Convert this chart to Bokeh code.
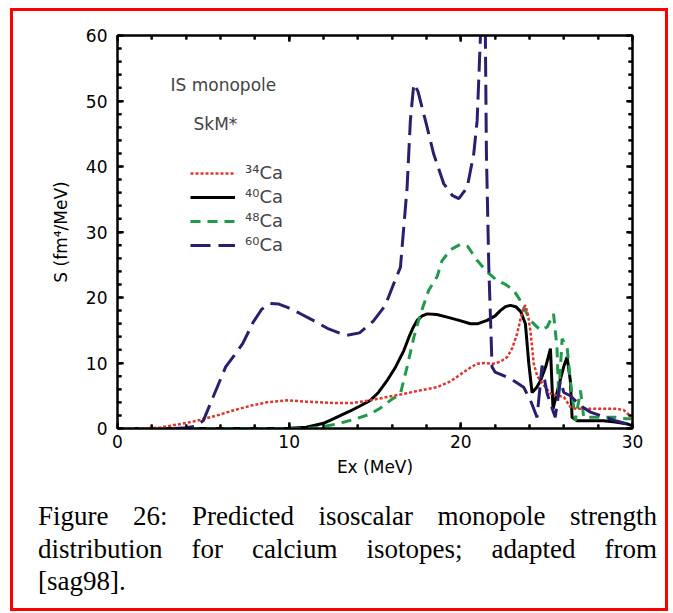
import math
from bokeh.plotting import figure
from bokeh.layouts import column
from bokeh.models import (Range1d, SingleIntervalTicker, LinearAxis, Legend, LegendItem,
                          Label, Div, CustomJSTickFormatter)
from bokeh.embed import file_html
from bokeh.resources import INLINE

# ---------------- data ----------------
ca34_x = [1.5, 2.5, 3.5, 4.3, 4.8, 5.8, 6.8, 7.8, 8.7, 9.9, 11.0, 12.6, 13.7, 14.7, 15.7,
          16.7, 17.6, 18.6, 19.4, 20.0, 20.5, 20.95, 21.4, 21.9, 22.3, 22.7, 23.0, 23.28,
          23.5, 23.66, 23.76, 23.9, 24.05, 24.25, 24.45, 24.64, 25.22, 26.0, 26.38, 26.7,
          27.5, 28.3, 29.1, 29.5, 30.0]
ca34_y = [0.0, 0.15, 0.6, 1.0, 1.3, 2.0, 2.8, 3.5, 4.0, 4.3, 4.1, 3.9, 3.9, 4.3, 4.8,
          5.3, 5.8, 6.3, 7.2, 8.3, 9.2, 9.9, 10.0, 9.9, 10.2, 10.9, 12.3, 14.5,
          17.0, 18.5, 18.8, 17.5, 15.0, 9.9, 8.0, 7.3, 5.3, 4.8, 3.3, 3.0,
          3.0, 3.0, 3.0, 2.8, 1.6]

ca40_x = [1.0, 8.0, 10.0, 11.0, 12.0, 12.6, 13.5, 14.1, 14.73, 15.2, 15.7, 16.2, 16.68,
          16.97, 17.2, 17.45, 17.75, 18.04, 18.6, 19.2, 19.9, 20.56, 21.0, 21.53, 22.0,
          22.3, 22.6, 22.89, 23.2, 23.5, 23.76, 23.96, 24.15, 24.4, 24.64, 24.95, 25.22,
          25.37, 25.7, 26.0, 26.19, 26.38, 26.48, 26.77, 28.3, 29.0, 29.7, 30.0]
ca40_y = [0.0, 0.0, 0.05, 0.2, 0.8, 1.5, 2.6, 3.4, 4.3, 5.5, 7.3, 9.4, 11.9,
          13.9, 15.3, 16.5, 17.2, 17.5, 17.4, 17.0, 16.5, 16.0, 16.0, 16.5, 17.2,
          18.0, 18.6, 18.8, 18.6, 17.8, 16.0, 9.9, 5.5, 6.2, 7.3, 9.5, 12.2,
          3.0, 6.5, 9.5, 10.9, 7.3, 1.7, 1.2, 1.2, 1.0, 0.7, 0.4]

ca48_x = [1.2, 11.0, 11.8, 12.8, 13.8, 14.73, 15.3, 15.9, 16.48, 16.87, 17.26, 17.65,
          18.13, 18.62, 18.9, 19.4, 19.97, 20.4, 20.97, 21.5, 22.1, 22.6, 23.08, 23.4,
          23.66, 24.05, 24.64, 25.03, 25.4, 25.6, 25.7, 25.9, 26.19, 26.38, 26.67,
          26.97, 27.16, 27.94, 29.1, 29.6, 30.0]
ca48_y = [0.0, 0.0, 0.2, 0.7, 1.4, 2.2, 3.1, 4.3, 5.3, 9.4, 13.9, 17.5,
          21.1, 23.2, 25.6, 27.3, 28.1, 27.8, 25.6, 24.0, 22.6, 22.0, 21.1, 19.8,
          18.5, 16.5, 15.0, 15.5, 17.5, 12.4, 4.8, 13.7, 12.4, 7.3, 1.2,
          5.8, 1.7, 1.7, 1.7, 1.5, 1.5]

ca60_x = [3.3, 4.0, 4.6, 5.0, 5.6, 6.3, 6.9, 7.3, 7.9, 8.4, 8.9, 9.4, 9.9, 10.6, 11.4,
          12.3, 13.3, 14.1, 14.9, 15.6, 16.09, 16.48, 16.87, 17.06, 17.26, 17.5, 17.94,
          18.42, 19.0, 19.5, 19.88, 20.37, 20.75, 20.95, 21.14, 21.28, 21.43, 21.49,
          21.63, 21.82, 22.0, 22.9, 23.66, 24.1, 24.44, 24.73, 25.03, 25.5, 25.8, 26.0,
          26.38, 26.97, 27.55, 28.32, 29.0, 29.7, 30.0]
ca60_y = [0.0, 0.1, 0.4, 1.2, 5.0, 9.4, 11.5, 13.0, 16.2, 18.2, 19.1, 19.0, 18.5, 17.6, 16.5,
          15.2, 14.2, 14.6, 16.4, 18.8, 22.1, 24.6, 36.8, 47.0, 52.6, 51.5, 47.0,
          41.9, 37.4, 35.6, 35.1, 36.8, 41.9, 47.0, 59.7, 62.0, 59.7, 42.0,
          24.6, 9.4, 8.6, 7.6, 6.3, 4.0, 1.7, 9.6, 5.3, 1.7, 7.3, 5.5,
          5.0, 3.5, 2.5, 1.8, 1.2, 0.7, 0.4]

series_labels = ["\u00b3\u2074Ca", "\u2074\u2070Ca", "\u2074\u2078Ca", "\u2076\u2070Ca"]
x_ticks_major = [0, 10, 20, 30]
x_ticks_minor = [2, 4, 6, 8, 12, 14, 16, 18, 22, 24, 26, 28]
y_ticks_major = [0, 10, 20, 30, 40, 50, 60]
y_ticks_minor = [2, 4, 6, 8, 12, 14, 16, 18, 22, 24, 26, 28, 32, 34, 36, 38,
                 42, 44, 46, 48, 52, 54, 56, 58]

caption_lines = [
    "Figure 26: Predicted isoscalar monopole strength",
    "distribution for calcium isotopes; adapted from",
    "[sag98].",
]

X0, X1, Y0, Y1 = 0, 30, 0, 60

# ---------------- figure ----------------
PW, PH = 652, 489
ML, MR, MT, MB = 104, 33, 24, 72

p = figure(width=PW, height=PH, output_backend="svg", toolbar_location=None,
           x_range=Range1d(X0, X1), y_range=Range1d(Y0, Y1),
           min_border_left=ML, min_border_right=MR,
           min_border_top=MT, min_border_bottom=MB)
p.background_fill_color = "white"
p.border_fill_color = "white"
p.grid.visible = False
p.outline_line_color = "black"
p.outline_line_width = 2

AX_FONT = "DejaVu Sans"


def style_axis(ax, show_labels=True):
    ax.axis_line_width = 2
    ax.axis_line_color = "black"
    ax.major_tick_in = 6
    ax.major_tick_out = 0
    ax.minor_tick_in = 4
    ax.minor_tick_out = 0
    ax.major_tick_line_width = 2
    ax.minor_tick_line_width = 2
    ax.major_label_text_font = AX_FONT
    ax.major_label_text_font_size = "17px"
    ax.major_label_text_color = "black"
    ax.axis_label_text_font = AX_FONT
    ax.axis_label_text_font_size = "17px"
    ax.axis_label_text_font_style = "normal"
    ax.axis_label_text_color = "black"
    if not show_labels:
        ax.formatter = CustomJSTickFormatter(code="return ''")
        ax.major_label_text_font_size = "2px"
        ax.major_label_standoff = 0


p.xaxis[0].ticker = SingleIntervalTicker(interval=10, num_minor_ticks=5)
p.yaxis[0].ticker = SingleIntervalTicker(interval=10, num_minor_ticks=5)
style_axis(p.xaxis[0])
style_axis(p.yaxis[0])
p.xaxis[0].major_label_standoff = 6
p.yaxis[0].major_label_standoff = 10
p.xaxis[0].axis_label = "Ex (MeV)"
p.xaxis[0].axis_label_standoff = 6
p.yaxis[0].axis_label = "S (fm\u2074/MeV)"
p.yaxis[0].axis_label_standoff = 12

top_ax = LinearAxis(ticker=SingleIntervalTicker(interval=10, num_minor_ticks=5))
right_ax = LinearAxis(ticker=SingleIntervalTicker(interval=10, num_minor_ticks=5))
style_axis(top_ax, show_labels=False)
style_axis(right_ax, show_labels=False)
p.add_layout(top_ax, "above")
p.add_layout(right_ax, "right")

# inward tick marks: dash markers centred on the frame edge (outer half is clipped)
MAJ, MIN = 12, 8                      # marker sizes in pixels (half shows inside)
for vals, sz in ((x_ticks_major, MAJ), (x_ticks_minor, MIN)):
    n = len(vals)
    p.scatter(x=vals, y=[Y0] * n, marker="dash", size=sz, angle=math.pi / 2,
              line_color="black", line_width=2)
    p.scatter(x=vals, y=[Y1] * n, marker="dash", size=sz, angle=math.pi / 2,
              line_color="black", line_width=2)
for vals, sz in ((y_ticks_major, MAJ), (y_ticks_minor, MIN)):
    n = len(vals)
    p.scatter(x=[X0] * n, y=vals, marker="dash", size=sz,
              line_color="black", line_width=2)
    p.scatter(x=[X1] * n, y=vals, marker="dash", size=sz,
              line_color="black", line_width=2)

RED = "#e3342c"
GREEN = "#1f9a4b"
NAVY = "#2a1f6e"

r40 = p.line(ca40_x, ca40_y, line_color="black", line_width=3)
r48 = p.line(ca48_x, ca48_y, line_color=GREEN, line_width=3, line_dash="10 7")
r34 = p.line(ca34_x, ca34_y, line_color=RED, line_width=2.5, line_dash="3 2")
r60 = p.line(ca60_x, ca60_y, line_color=NAVY, line_width=3, line_dash="20 8")

# frame-relative helpers (frame left/bottom in the original page: 117 / 428)
FL, FB = 117, 428

legend = Legend(items=[LegendItem(label=series_labels[0], renderers=[r34]),
                       LegendItem(label=series_labels[1], renderers=[r40]),
                       LegendItem(label=series_labels[2], renderers=[r48]),
                       LegendItem(label=series_labels[3], renderers=[r60])],
                location=(190 - FL, FB - 255),
                padding=0, margin=0, spacing=3,
                glyph_width=45, glyph_height=20, label_height=20,
                label_standoff=10,
                label_text_font=AX_FONT, label_text_font_size="18px",
                border_line_alpha=0, background_fill_alpha=0)
p.add_layout(legend)

p.add_layout(Label(x=170 - FL, y=FB - 84, x_units="screen", y_units="screen",
                   text="IS monopole", text_font=AX_FONT, text_font_size="17px",
                   text_baseline="alphabetic"))
p.add_layout(Label(x=193 - FL, y=FB - 123, x_units="screen", y_units="screen",
                   text="SkM*", text_font=AX_FONT, text_font_size="17px",
                   text_baseline="alphabetic"))

# ---------------- caption ----------------
just = "text-align:justify;text-align-last:justify;"
cap_html = (
    "<div style=\"font-family:'Liberation Serif','Times New Roman',serif;font-size:27px;"
    "line-height:32.5px;color:#000;margin-left:20px;width:619px;"
    "position:relative;top:-5px;\">"
    f"<div style=\"{just}\">{caption_lines[0]}</div>"
    f"<div style=\"{just}\">{caption_lines[1]}</div>"
    f"<div>{caption_lines[2]}</div>"
    "</div>"
)
cap = Div(text=cap_html, width=PW, height=108)

root = column(p, cap, margin=(8, 0, 0, 10), spacing=0,
              width=658, height=603, sizing_mode="fixed",
              styles={"border": "3px solid #ff0000", "box-sizing": "border-box",
                      "overflow": "hidden"})

open("out.html", "w").write(file_html(root, INLINE))
